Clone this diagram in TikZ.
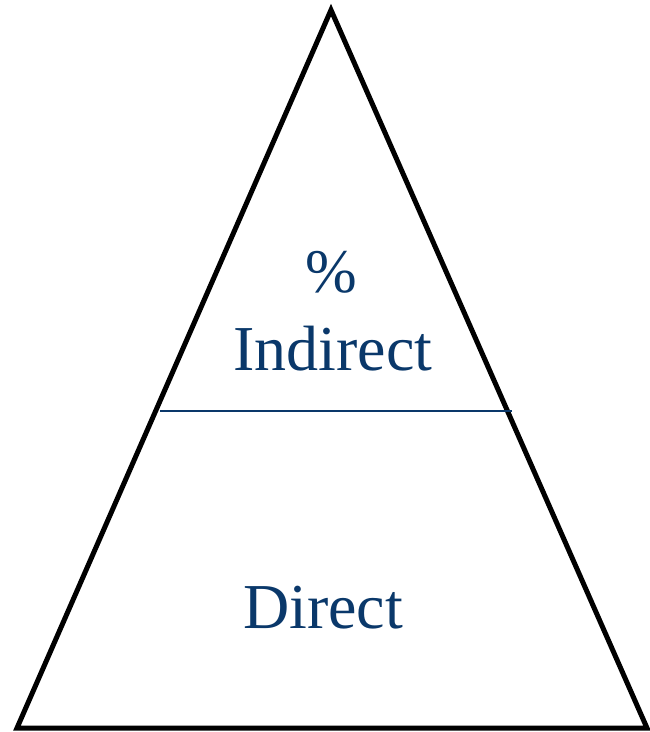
\documentclass[tikz,border=0pt]{standalone}
\usepackage{fontspec}
\setmainfont{Liberation Serif}
\definecolor{darkblue}{RGB}{10,56,106}
\begin{document}
\begin{tikzpicture}[x=1pt, y=-1pt, line join=miter]
				% Khung hình
				\useasboundingbox (0,0) rectangle (649,732);
				
				% Các đỉnh của tam giác
				\coordinate (top) at (331,10);
				\coordinate (bl) at (17,728);
				\coordinate (br) at (647,728);
				\draw[line width=5pt] (top) -- (bl) -- (br) -- cycle;
				
				% Đường phân chia
				\coordinate (ml) at (160,411);
				\coordinate (mr) at (512,411);
				\draw[line width=2pt, color=darkblue] (ml) -- (mr);
				
				% Các nhãn
				\node[anchor=base, inner sep=0, text=darkblue, font=\fontsize{62}{70}\selectfont] (pct) at (331,292) {\%};
				\node[anchor=base, inner sep=0, text=darkblue, font=\fontsize{64}{70}\selectfont] (indirect) at (333,370) {Indirect};
				\node[anchor=base, inner sep=0, text=darkblue, font=\fontsize{64}{70}\selectfont] (direct) at (323,628) {Direct};
			\end{tikzpicture}
\end{document}
